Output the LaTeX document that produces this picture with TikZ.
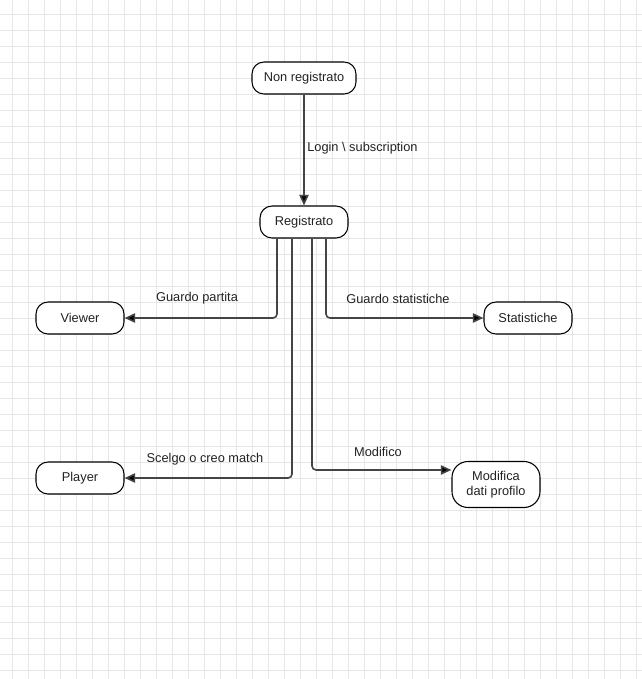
\documentclass[tikz,border=0pt]{standalone}
\usepackage{fontspec}
\setmainfont{Liberation Sans}
\usetikzlibrary{arrows.meta}
\definecolor{gridc}{HTML}{E6E6E6}
\definecolor{linec}{HTML}{444444}
\definecolor{txtc}{HTML}{222222}
\begin{document}
\begin{tikzpicture}[x=0.75pt,y=-0.75pt,
  state/.style={draw=black,line width=0.8pt,rounded corners=9pt,fill=white,
    minimum width=66pt,minimum height=24pt,inner sep=0pt,align=center,
    text=txtc,font=\fontsize{9.6}{10.8}\selectfont},
  conn/.style={draw=linec,line width=1.2pt,rounded corners=3pt,
    -{Triangle[length=8pt,width=7pt,fill=black]}},
  lbl/.style={text=txtc,font=\fontsize{9.6}{10.8}\selectfont,inner sep=0pt}]
\useasboundingbox (0,0) rectangle (642,679);
\fill[white] (0,0) rectangle (642,679);
% background grid
\foreach \gx in {0,...,39}{\draw[gridc,line width=0.6pt] (12.5+16*\gx,0) -- (12.5+16*\gx,679);}
\foreach \gy in {0,...,41}{\draw[gridc,line width=0.6pt] (0,14+16*\gy) -- (642,14+16*\gy);}
% states
\node[state,minimum width=78pt] (non) at (304,78) {Non registrato};
\node[state] (reg) at (304,222) {Registrato};
\node[state] (viewer) at (80,318) {Viewer};
\node[state] (stat) at (528,318) {Statistiche};
\node[state] (player) at (80,478) {Player};
\node[state,minimum height=34.5pt,rounded corners=12pt] (mod) at (496,484.5) {Modifica\\dati profilo};
% transitions
\draw[conn] (non) -- (reg);
\draw[conn] ([xshift=-20.25pt]reg.south) |- (viewer.east);
\draw[conn] ([xshift=16.5pt]reg.south) |- (stat.west);
\draw[conn] ([xshift=-9pt]reg.south) |- (player.east);
\draw[conn] ([xshift=6pt]reg.south) |- ([yshift=10.9pt]mod.west);
% labels
\node[lbl,anchor=west] (lLogin) at (307,148) {Login \textbackslash{} subscription};
\node[lbl] (lViewer) at (197,298) {Guardo partita};
\node[lbl] (lStat) at (398,299) {Guardo statistiche};
\node[lbl] (lPlayer) at (205,459) {Scelgo o creo match};
\node[lbl] (lMod) at (378,452) {Modifico};
\end{tikzpicture}
\end{document}
